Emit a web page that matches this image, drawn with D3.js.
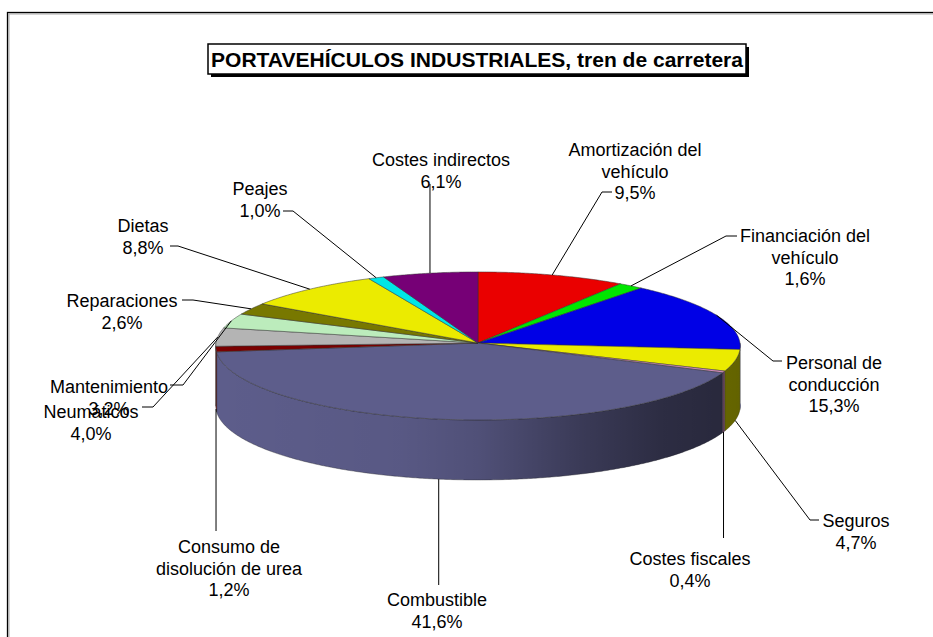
<!DOCTYPE html>
<html><head><meta charset="utf-8">
<script src="https://cdn.jsdelivr.net/npm/d3@7"></script>
<style>body{margin:0;background:#fff}svg{display:block}</style>
</head><body>
<svg id="chart" width="933" height="637"></svg>
<script>
// ---- data ----
const title = "PORTAVEHÍCULOS INDUSTRIALES, tren de carretera";
const categories = ["Amortización del vehículo","Financiación del vehículo","Personal de conducción","Seguros","Costes fiscales","Combustible","Consumo de disolución de urea","Neumáticos","Mantenimiento","Reparaciones","Dietas","Peajes","Costes indirectos"];
const labelLines = [["Amortización del","vehículo"],["Financiación del","vehículo"],["Personal de","conducción"],["Seguros"],["Costes fiscales"],["Combustible"],["Consumo de","disolución de urea"],["Neumáticos"],["Mantenimiento"],["Reparaciones"],["Dietas"],["Peajes"],["Costes indirectos"]];
const values = [9.5,1.6,15.3,4.7,0.4,41.6,1.2,4.0,3.2,2.6,8.8,1.0,6.1];
const valueLabels = ["9,5%","1,6%","15,3%","4,7%","0,4%","41,6%","1,2%","4,0%","3,2%","2,6%","8,8%","1,0%","6,1%"];

// ---- styles / layout ----
const colors = ["#ea0000","#00e600","#0000e6","#ebeb00","#d890c0","#5d5d8b","#7a0000","#b4b4b4","#bcecbc","#787800","#ebeb00","#00e6e6","#760076"];
const labelPos = [[635,150],[805,236],[834,363],[856,521],[690,559],[437,600],[229,547],[91,412],[109,387],[122,301],[143,226],[260,189],[441,160]];
const leaders = [
  {edge:"top", pts:[[612,192],[602,192]]},
  {edge:"top", pts:[[737,236],[726,236]]},
  {edge:"top", pts:[[782,361],[773,361]]},
  {edge:"bottom", pts:[[819,520],[810,520]]},
  {edge:"bottom", vy:538},
  {edge:"bottom", vy:585},
  {edge:"bottom", vy:531},
  {edge:"top", pts:[[142,407],[153,407]]},
  {edge:"top", pts:[[170,385],[183,385]]},
  {edge:"top", pts:[[182,300],[193,300]]},
  {edge:"top", pts:[[170,246],[178,246]]},
  {edge:"top", pts:[[283,211],[293,211]]},
  {edge:"top", vy:184}
];

const W=933,H=637;
const cx=478, cy=343, rx=262, ry=73.9, persp=0.04, depth=60, bottomRy=1.0;
const FONT="'Liberation Sans', Arial, sans-serif";

const svg=d3.select("#chart");
const defs=svg.append("defs");

// frame
svg.append("rect").attr("x",9).attr("y",14).attr("width",W).attr("height",H).attr("fill","none").attr("stroke","#aaa").attr("stroke-width",1);
svg.append("rect").attr("x",7.5).attr("y",12.5).attr("width",W).attr("height",H).attr("fill","none").attr("stroke","#000").attr("stroke-width",1.3);

function proj(theta, dz){
  const c=Math.cos(theta), s=Math.sin(theta), f=1/(1+persp*c);
  const k=dz?bottomRy:1;
  return [cx+rx*s*f, cy-ry*k*c*f+dz];
}
function arcPts(a0,a1,dz){
  const n=Math.max(2,Math.ceil(Math.abs(a1-a0)/(Math.PI/360)));
  return d3.range(n+1).map(i=>proj(a0+(a1-a0)*i/n,dz));
}

const arcs=d3.pie().sort(null).value(d=>d)(values);
const line=d3.line();

const g=defs.append("linearGradient").attr("id","shade").attr("gradientUnits","userSpaceOnUse")
  .attr("x1",cx-rx).attr("x2",cx+rx).attr("y1",0).attr("y2",0);
[[0,0],[0.35,0.05],[0.5,0.14],[0.7,0.38],[0.85,0.52],[1,0.58]].forEach(([o,a])=>g.append("stop").attr("offset",o).attr("stop-color","#000").attr("stop-opacity",a));

const sides=svg.append("g");
arcs.forEach((a,i)=>{
  const b0=Math.max(a.startAngle,Math.PI/2), b1=Math.min(a.endAngle,3*Math.PI/2);
  if(b1<=b0) return;
  const pts=arcPts(b0,b1,0).concat(arcPts(b1,b0,depth));
  sides.append("path").attr("d",line(pts)+"Z").attr("fill",colors[i]);
  sides.append("path").attr("d",line(pts)+"Z").attr("fill","url(#shade)").attr("stroke","#222").attr("stroke-width",0.5).attr("stroke-opacity",0.7);
});

const tops=svg.append("g");
arcs.forEach((a,i)=>{
  const pts=[[cx,cy]].concat(arcPts(a.startAngle,a.endAngle,0));
  tops.append("path").attr("d",line(pts)+"Z").attr("fill",colors[i]).attr("stroke","#333").attr("stroke-width",0.5).attr("stroke-linejoin","round");
});

const lg=svg.append("g").attr("fill","none").attr("stroke","#000").attr("stroke-width",1);
arcs.forEach((a,i)=>{
  const L=leaders[i];
  const mid=(a.startAngle+a.endAngle)/2;
  const p=proj(mid, L.edge==="bottom"?depth:0);
  const pts=(L.vy!==undefined)?[[p[0],L.vy],p]:L.pts.concat([p]);
  lg.append("path").attr("d",line(pts));
});

const tg=svg.append("g").attr("font-family",FONT).attr("font-size",18).attr("fill","#000").attr("text-anchor","middle");
arcs.forEach((a,i)=>{
  const [x,y]=labelPos[i];
  const lines=labelLines[i].concat([valueLabels[i]]);
  const t=tg.append("text").attr("x",x).attr("y",y+6.3);
  lines.forEach((s,k)=>t.append("tspan").attr("x",x).attr("dy",k?21.5:0).text(s));
});

const tb={x:208,y:44,w:538,h:30};
svg.append("rect").attr("x",tb.x+3).attr("y",tb.y+3).attr("width",tb.w).attr("height",tb.h).attr("fill","#000");
svg.append("rect").attr("x",tb.x).attr("y",tb.y).attr("width",tb.w).attr("height",tb.h).attr("fill","#fff").attr("stroke","#000").attr("stroke-width",1.5);
svg.append("text").attr("x",tb.x+tb.w/2).attr("y",tb.y+22.5).attr("text-anchor","middle")
  .attr("font-family",FONT).attr("font-weight","bold").attr("font-size",21)
  .attr("textLength",532).attr("lengthAdjust","spacingAndGlyphs").text(title);
</script>
</body></html>
